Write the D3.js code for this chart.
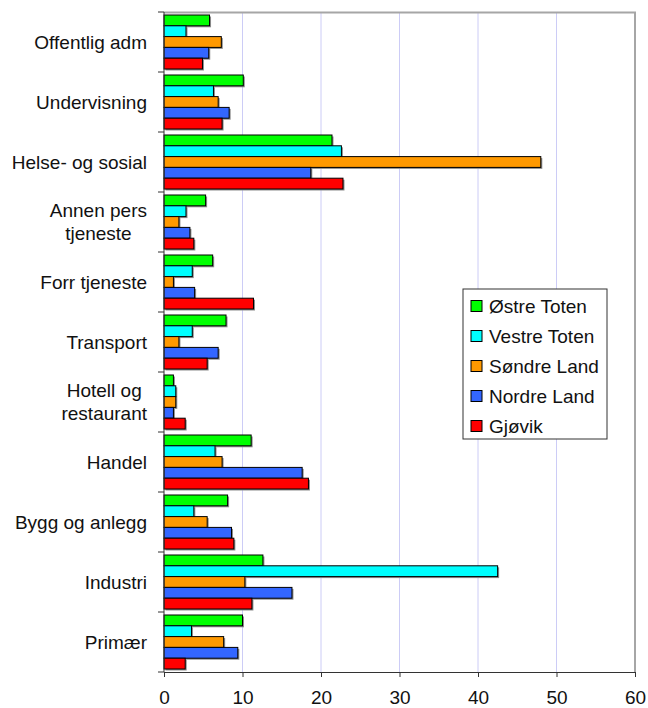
<!DOCTYPE html>
<html>
<head>
<meta charset="utf-8">
<script src="https://cdn.jsdelivr.net/npm/d3@7"></script>
<style>
  body { margin: 0; background: #fff; }
  text { font-family: "Liberation Sans", Arial, sans-serif; fill: #111; }
</style>
</head>
<body>
<div id="chart"></div>
<script>
// Data
const categories = [
    "Offentlig adm", "Undervisning", "Helse- og sosial", "Annen pers\ntjeneste",
    "Forr tjeneste", "Transport", "Hotell og\nrestaurant", "Handel",
    "Bygg og anlegg", "Industri", "Primær"
];
const seriesNames = ["Østre Toten", "Vestre Toten", "Søndre Land", "Nordre Land", "Gjøvik"];
const seriesColors = ["#00ff00", "#00ffff", "#ff9900", "#3366ff", "#ff0000"];

const ostreToten  = [5.8, 10.1, 21.4, 5.3, 6.2, 7.9, 1.2, 11.1, 8.1, 12.6, 10.0];
const vestreToten = [2.8, 6.3, 22.6, 2.8, 3.6, 3.6, 1.5, 6.5, 3.8, 42.5, 3.5];
const sondreLand  = [7.3, 6.9, 48.0, 1.9, 1.2, 1.9, 1.5, 7.4, 5.5, 10.3, 7.6];
const nordreLand  = [5.7, 8.3, 18.7, 3.3, 3.9, 6.9, 1.2, 17.6, 8.6, 16.3, 9.4];
const gjovik      = [4.9, 7.4, 22.8, 3.8, 11.4, 5.5, 2.7, 18.4, 8.9, 11.2, 2.7];
const seriesValues = [ostreToten, vestreToten, sondreLand, nordreLand, gjovik];

const xTicks = [0, 10, 20, 30, 40, 50, 60];

const WIDTH = 648;
const HEIGHT = 708;
const FONT = "19px";
const margin = { top: 12, left: 164, right: 13, bottom: 36 };
const plotW = WIDTH - margin.left - margin.right;
const plotH = HEIGHT - margin.top - margin.bottom;

const svg = d3.select("#chart")
    .append("svg")
    .attr("width", WIDTH)
    .attr("height", HEIGHT);

const x = d3.scaleLinear().domain([0, 60]).range([0, plotW]);
const y = d3.scaleBand().domain(categories).range([0, plotH])
    .paddingInner(0.1).paddingOuter(0.05);
const ySub = d3.scaleBand().domain(seriesNames).range([0, y.bandwidth()]);

const g = svg.append("g").attr("transform", `translate(${margin.left},${margin.top})`);

// gridlines
g.selectAll(".grid")
    .data(xTicks.filter(t => t > 0 && t < 60))
    .enter().append("line")
    .attr("x1", d => x(d)).attr("x2", d => x(d))
    .attr("y1", 0).attr("y2", plotH)
    .attr("stroke", "#ccccf6").attr("stroke-width", 1);

// plot frame (top + right, gray)
g.append("path")
    .attr("d", `M0,0.5H${plotW}V${plotH}`)
    .attr("fill", "none").attr("stroke", "#a6a6a6").attr("stroke-width", 2);

// bars
const groups = g.selectAll(".cat")
    .data(categories)
    .enter().append("g")
    .attr("transform", d => `translate(0,${y(d)})`);

seriesNames.forEach((name, si) => {
    // drop shadow
    groups.append("rect")
        .attr("x", 1.5)
        .attr("y", (d, i) => ySub(name) + 1.5)
        .attr("width", (d, i) => x(seriesValues[si][i]))
        .attr("height", ySub.bandwidth())
        .attr("fill", "#8c8c8c");
});
seriesNames.forEach((name, si) => {
    groups.append("rect")
        .attr("x", 0)
        .attr("y", (d, i) => ySub(name))
        .attr("width", (d, i) => x(seriesValues[si][i]))
        .attr("height", ySub.bandwidth())
        .attr("fill", seriesColors[si])
        .attr("stroke", "#000")
        .attr("stroke-width", 1);
});

// x axis
const xAxis = g.append("g")
    .attr("transform", `translate(0,${plotH})`)
    .call(d3.axisBottom(x).tickValues(xTicks).tickSize(5).tickPadding(14));
xAxis.select(".domain").attr("stroke", "#333");
xAxis.selectAll(".tick line").attr("stroke", "#333");
xAxis.selectAll("text").style("font-size", FONT).attr("fill", "#111")
    .style("font-family", '"Liberation Sans", Arial, sans-serif');

// y axis: ticks at category boundaries
const boundaries = d3.range(categories.length + 1).map(i => i * y.step());
g.append("line")
    .attr("x1", 0).attr("x2", 0).attr("y1", 0).attr("y2", plotH)
    .attr("stroke", "#333");
g.selectAll(".ytick")
    .data(boundaries)
    .enter().append("line")
    .attr("x1", -6).attr("x2", 0)
    .attr("y1", d => d).attr("y2", d => d)
    .attr("stroke", "#333");

// category labels
const labelX = -17;
const labels = g.selectAll(".ylabel")
    .data(categories)
    .enter().append("g")
    .attr("transform", d => `translate(0,${y(d) + y.bandwidth() / 2})`);

labels.each(function (d) {
    const lines = d.split("\n");
    const sel = d3.select(this);
    if (lines.length === 1) {
        sel.append("text")
            .attr("x", labelX).attr("dy", "0.35em")
            .attr("text-anchor", "end")
            .style("font-size", FONT)
            .text(d);
    } else {
        // centre the lines on each other, block right-aligned
        const tmp = lines.map(l => sel.append("text").style("font-size", FONT).text(l));
        const widths = tmp.map(t => t.node().getComputedTextLength());
        const maxW = d3.max(widths);
        const cx = labelX - maxW / 2;
        tmp.forEach((t, i) => {
            t.attr("x", cx).attr("text-anchor", "middle")
                .attr("y", (i - (lines.length - 1) / 2) * 23)
                .attr("dy", "0.35em");
        });
    }
});

// legend
const legend = svg.append("g").attr("transform", "translate(463,289)");
legend.append("rect")
    .attr("width", 144).attr("height", 150)
    .attr("fill", "#fff").attr("stroke", "#333").attr("stroke-width", 1);

const items = legend.selectAll(".item")
    .data(seriesNames)
    .enter().append("g")
    .attr("transform", (d, i) => `translate(0,${17 + i * 30})`);
items.append("rect")
    .attr("x", 8).attr("y", -5.5)
    .attr("width", 11).attr("height", 11)
    .attr("fill", (d, i) => seriesColors[i])
    .attr("stroke", "#000");
items.append("text")
    .attr("x", 26).attr("dy", "0.35em")
    .style("font-size", FONT)
    .text(d => d);
</script>
</body>
</html>
